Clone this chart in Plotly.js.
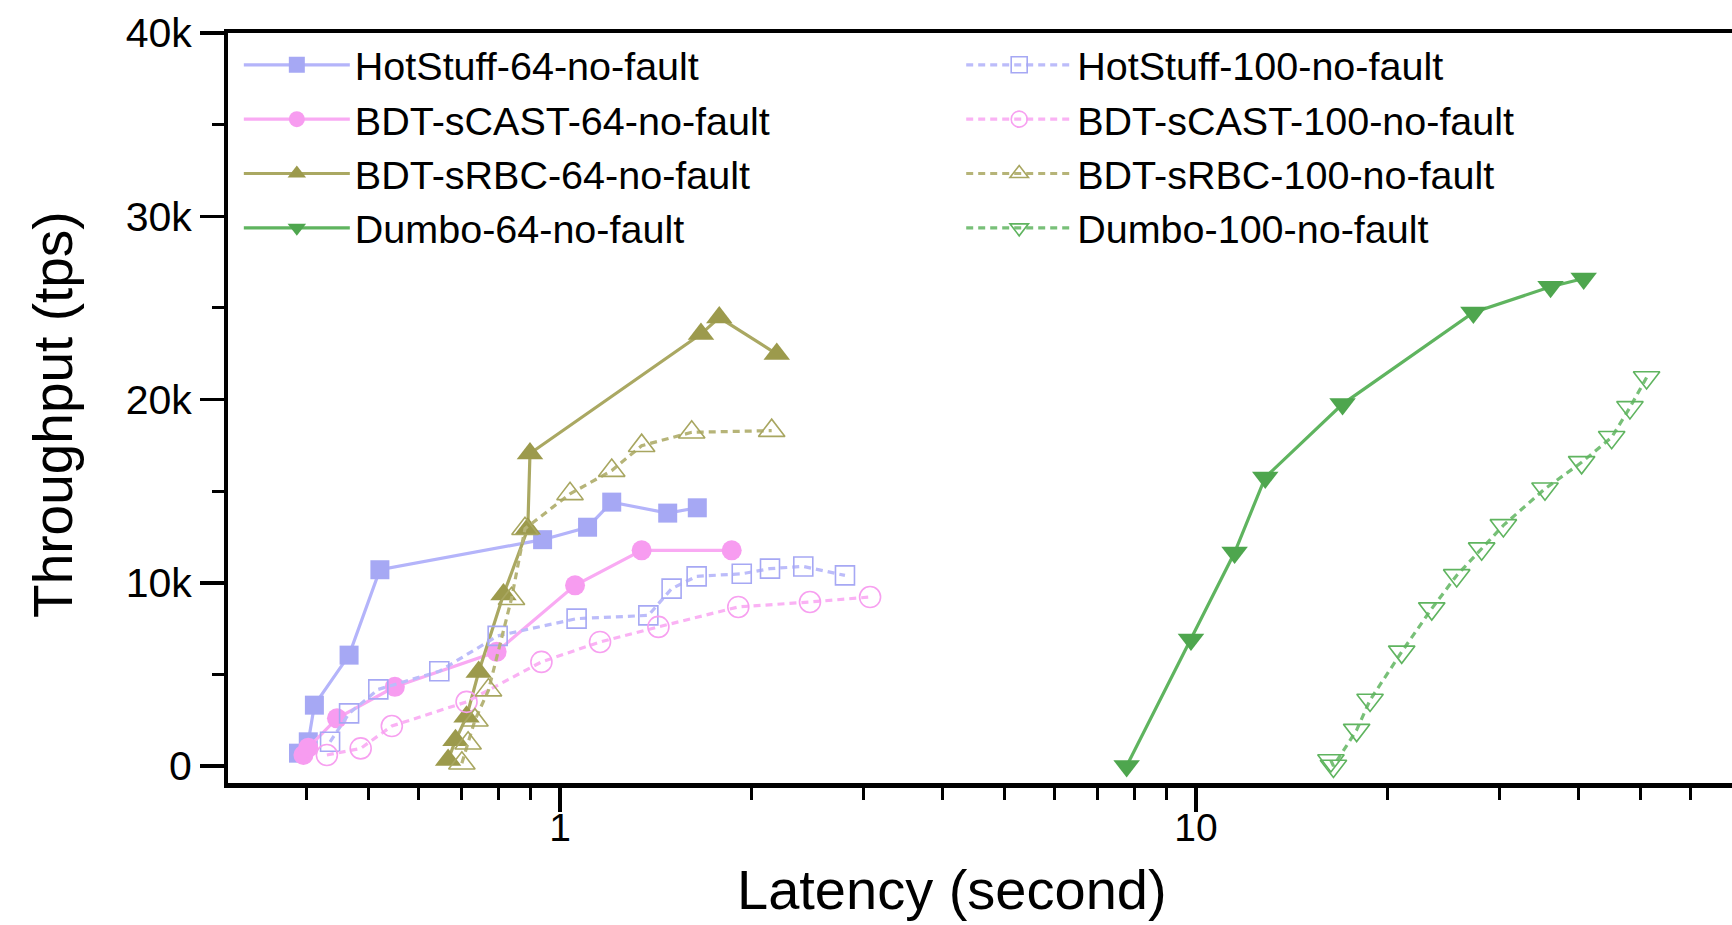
<!DOCTYPE html>
<html>
<head>
<meta charset="utf-8">
<script src="https://cdn.plot.ly/plotly-3.0.1.min.js"></script>
<style>
  html, body { margin: 0; padding: 0; background: #ffffff; }
  #chart { width: 1732px; height: 925px; }
</style>
</head>
<body>
<div id="chart"></div>
<script>
// Latency (s) vs throughput (tps) for each protocol at 64 and 100 nodes, no faults.
const hs64Latency   = [0.388, 0.402, 0.411, 0.466, 0.521, 0.939, 1.105, 1.206, 1.477, 1.644];
const hs64Tput      = [700, 1320, 3320, 6050, 10710, 12350, 13030, 14400, 13800, 14090];

const cast64Latency = [0.395, 0.402, 0.446, 0.550, 0.795, 1.056, 1.344, 1.862];
const cast64Tput    = [600, 1000, 2600, 4320, 6230, 9860, 11770, 11770];

const rbc64Latency  = [0.667, 0.685, 0.713, 0.745, 0.815, 0.890, 0.897, 1.666, 1.780, 2.192];
const rbc64Tput     = [330, 1400, 2690, 5130, 9360, 12950, 17050, 23570, 24470, 22480];

const dumbo64Latency = [7.78, 9.82, 11.5, 12.85, 17.0, 27.3, 36.1, 40.7];
const dumbo64Tput    = [0, 6900, 11650, 15750, 19750, 24750, 26150, 26600];

const hs100Latency  = [0.435, 0.466, 0.518, 0.646, 0.798, 1.062, 1.377, 1.498, 1.640, 1.931, 2.139, 2.413, 2.806];
const hs100Tput     = [1320, 2870, 4180, 5170, 7100, 8040, 8220, 9680, 10350, 10490, 10770, 10890, 10400];

const cast100Latency = [0.430, 0.486, 0.544, 0.713, 0.935, 1.156, 1.428, 1.907, 2.472, 3.073];
const cast100Tput    = [600, 960, 2180, 3500, 5680, 6770, 7590, 8680, 8950, 9220];

const rbc100Latency = [0.701, 0.717, 0.735, 0.772, 0.839, 0.881, 1.037, 1.206, 1.344, 1.611, 2.152];
const rbc100Tput    = [150, 1240, 2500, 4140, 9130, 12950, 14850, 16120, 17480, 18210, 18300];

const dumbo100Latency = [16.3, 16.45, 17.89, 18.78, 21.06, 23.48, 25.7, 28.13, 30.43, 35.38, 40.4, 45.04, 48.12, 51.11];
const dumbo100Tput    = [300, 0, 1960, 3600, 6230, 8590, 10400, 11860, 13130, 15130, 16570, 17940, 19570, 21200];

// Axis ticks
const xTickVals  = [1, 10];
const xTickText  = ['1', '10'];
const xMinorVals = [0.3, 0.4, 0.5, 0.6, 0.7, 0.8, 0.9, 2, 3, 4, 5, 6, 7, 8, 9, 20, 30, 40, 50, 60];
const yTickVals  = [0, 10000, 20000, 30000, 40000];
const yTickText  = ['0', '10k', '20k', '30k', '40k'];
const yMinorVals = [5000, 15000, 25000, 35000];

const FONT = 'Liberation Sans, Arial, Helvetica, sans-serif';

const SYMBOL_SIZE = {
  'square': 19, 'square-open': 19,
  'circle': 20, 'circle-open': 21,
  'triangle-up': 23, 'triangle-up-open': 23,
  'triangle-down': 23, 'triangle-down-open': 23
};

function series(name, x, y, lineColor, markerColor, symbol, dashed, legendId) {
  const open = symbol.endsWith('-open');
  return {
    type: 'scatter',
    mode: 'lines+markers',
    name: name,
    x: x,
    y: y,
    legend: legendId,
    line: { color: lineColor, width: 3.2, dash: dashed ? '7px,5px' : 'solid' },
    marker: {
      symbol: symbol,
      size: SYMBOL_SIZE[symbol],
      color: markerColor,
      line: { color: markerColor, width: open ? 1.6 : 0 }
    }
  };
}

const traces = [
  series('HotStuff-64-no-fault',  hs64Latency,    hs64Tput,    '#b4b4fa', '#a6a8f4', 'square',       false, 'legend'),
  series('BDT-sCAST-64-no-fault', cast64Latency,  cast64Tput,  '#f9aaf3', '#f79cf0', 'circle',       false, 'legend'),
  series('BDT-sRBC-64-no-fault',  rbc64Latency,   rbc64Tput,   '#aaa862', '#9c9a4c', 'triangle-up',  false, 'legend'),
  series('Dumbo-64-no-fault',     dumbo64Latency, dumbo64Tput, '#5fb45f', '#4ea64e', 'triangle-down',false, 'legend'),
  series('HotStuff-100-no-fault',  hs100Latency,    hs100Tput,    '#bcbcfa', '#a6a8f4', 'square-open',        true, 'legend2'),
  series('BDT-sCAST-100-no-fault', cast100Latency,  cast100Tput,  '#fab2f4', '#f7a0f0', 'circle-open',        true, 'legend2'),
  series('BDT-sRBC-100-no-fault',  rbc100Latency,   rbc100Tput,   '#b6b478', '#a8a660', 'triangle-up-open',   true, 'legend2'),
  series('Dumbo-100-no-fault',     dumbo100Latency, dumbo100Tput, '#78c078', '#5fb45f', 'triangle-down-open', true, 'legend2')
];

const legendCommon = {
  xanchor: 'left', yanchor: 'top',
  font: { family: FONT, size: 39.5, color: '#000' },
  bgcolor: 'rgba(0,0,0,0)',
  borderwidth: 0,
  itemwidth: 106,
  tracegroupgap: 0
};

const layout = {
  width: 1732,
  height: 925,
  margin: { l: 228, r: 0, t: 33, b: 142, pad: 0 },
  paper_bgcolor: '#ffffff',
  plot_bgcolor: '#ffffff',
  font: { family: FONT, color: '#000' },
  showlegend: true,
  xaxis: {
    type: 'log',
    range: [-0.522, 1.8428],
    showgrid: false, zeroline: false,
    showline: true, linecolor: '#000', linewidth: 4.5, mirror: true,
    ticks: 'outside', ticklen: 24, tickwidth: 3.5, tickcolor: '#000',
    tickmode: 'array', tickvals: xTickVals, ticktext: xTickText,
    ticklabelstandoff: -17,
    tickfont: { family: FONT, size: 39, color: '#000' },
    minor: { tickmode: 'array', tickvals: xMinorVals, ticks: 'outside', ticklen: 12, tickwidth: 3, tickcolor: '#000', showgrid: false }
  },
  yaxis: {
    range: [-928, 40000],
    showgrid: false, zeroline: false,
    showline: true, linecolor: '#000', linewidth: 4, mirror: false,
    ticks: 'outside', ticklen: 24, tickwidth: 3.5, tickcolor: '#000',
    tickmode: 'array', tickvals: yTickVals, ticktext: yTickText,
    tickfont: { family: FONT, size: 41, color: '#000' },
    minor: { tickmode: 'array', tickvals: yMinorVals, ticks: 'outside', ticklen: 12, tickwidth: 3, tickcolor: '#000', showgrid: false }
  },
  legend:  Object.assign({ x: 0.0072, y: 1.0005 }, legendCommon),
  legend2: Object.assign({ x: 0.4875, y: 1.0005 }, legendCommon),
  annotations: [
    {
      text: 'Latency (second)', xref: 'paper', yref: 'paper',
      x: 0.4814, y: -0.1415, xanchor: 'center', yanchor: 'middle', showarrow: false,
      font: { family: FONT, size: 56, color: '#000' }
    },
    {
      text: 'Throughput (tps)', xref: 'paper', yref: 'paper',
      x: -0.1164, y: 0.492, xanchor: 'center', yanchor: 'middle', showarrow: false, textangle: -90,
      font: { family: FONT, size: 55, color: '#000' }
    }
  ]
};

Plotly.newPlot('chart', traces, layout, { displayModeBar: false, staticPlot: true });
</script>
</body>
</html>
